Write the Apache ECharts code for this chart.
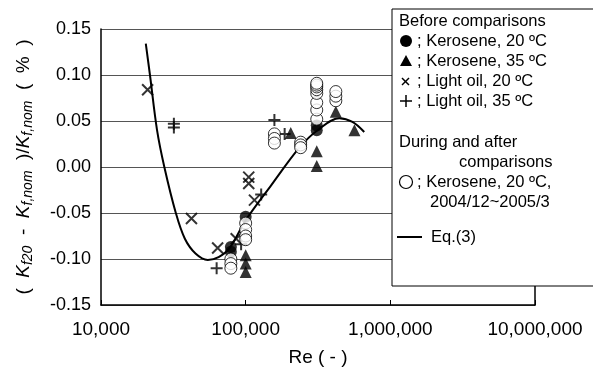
<!DOCTYPE html>
<html><head><meta charset="utf-8">
<script src="https://cdn.jsdelivr.net/npm/echarts@6/dist/echarts.min.js"></script>
<style>html,body{margin:0;padding:0;background:#fff}#c{width:593px;height:379px}</style>
</head><body><div id="c"></div>
<script>
// ---- data ----
const xTicks = [10000, 100000, 1000000, 10000000];
const yTicks = [-0.15, -0.10, -0.05, 0.00, 0.05, 0.10, 0.15];

const kerosene20 = [[79000,-0.087],[79000,-0.092],[100000,-0.054],[310000,0.040],[310000,0.045]];
const kerosene35 = [[100000,-0.096],[100000,-0.105],[100000,-0.114],[205000,0.037],
                    [310000,0.017],[310000,0.001],[420000,0.060],[565000,0.040]];
const lightOil20 = [[21000,0.084],[42200,-0.056],[64000,-0.088],[86000,-0.078],
                    [105000,-0.011],[105000,-0.018],[115000,-0.036]];
const lightOil35 = [[31900,0.047],[31900,0.043],[63000,-0.110],[93000,-0.084],
                    [128000,-0.030],[158000,0.051],[186000,0.036]];
const keroseneAfter = [[79000,-0.100],[79000,-0.105],[79000,-0.110],
                       [100000,-0.061],[100000,-0.068],[100000,-0.075],[100000,-0.079],
                       [158000,0.036],[158000,0.031],[158000,0.026],
                       [240000,0.027],[240000,0.024],[240000,0.021],
                       [310000,0.052],[310000,0.062],[310000,0.070],[310000,0.080],
                       [310000,0.084],[310000,0.087],[310000,0.089],[310000,0.091],
                       [420000,0.072],[420000,0.077],[420000,0.082]];
const eq3 = [[20400,0.134],[21800,0.100],[24400,0.040],[27400,0.000],
             [32900,-0.050],[38000,-0.078],[45000,-0.094],[54700,-0.101],[65000,-0.098],
             [77600,-0.088],[100000,-0.058],[150000,-0.020],[235000,0.021],
             [314000,0.040],[444000,0.053],[547000,0.049],[660000,0.038]];

const legendLines = ['Before comparisons', '; Kerosene, 20 ºC', '; Kerosene, 35 ºC',
  '; Light oil, 20 ºC', '; Light oil, 35 ºC', 'During and after', 'comparisons',
  '; Kerosene, 20 ºC,', '2004/12~2005/3', 'Eq.(3)'];

// ---- chart ----
const FONT = '"Liberation Sans", Arial, sans-serif';
function commas(v){ return String(Math.round(v)).replace(/\B(?=(\d{3})+(?!\d))/g, ','); }
const crossPath = 'path://M0,0L10,10M10,0L0,10';
const plusPath = 'path://M5,0L5,10M0,5L10,5';

const chart = echarts.init(document.getElementById('c'), null, {renderer:'canvas'});
const tf = (x,y,text) => ({type:'text', z:101, style:{x:x, y:y, text:text,
  font:'16.5px ' + FONT, fill:'#000', verticalAlign:'middle'}});

chart.setOption({
  animation:false,
  backgroundColor:'#fff',
  grid:{left:101, right:58, top:29, bottom:74},
  xAxis:{
    type:'log', logBase:10, min:xTicks[0], max:xTicks[xTicks.length-1],
    name:'Re ( - )', nameLocation:'middle', nameGap:43,
    nameTextStyle:{fontFamily:FONT, fontSize:19, color:'#000'},
    axisLine:{onZero:false, lineStyle:{color:'#000', width:1.5}},
    axisTick:{inside:true, length:5, lineStyle:{color:'#000'}},
    minorTick:{show:false},
    splitLine:{show:false},
    axisLabel:{margin:15, fontFamily:FONT, fontSize:19, color:'#000', formatter:v=>commas(v)}
  },
  yAxis:[{
    type:'value', min:yTicks[0], max:yTicks[yTicks.length-1], interval:0.05,
    name:'{n|(  }{k|K}{s|f20}{n|  -  }{k|K}{s|f,nom}{n|  )/}{k|K}{s|f,nom}{n|  (  %  )}',
    nameLocation:'middle', nameGap:66,
    nameTextStyle:{rich:{
      n:{fontFamily:FONT, fontSize:19, color:'#000'},
      k:{fontFamily:FONT, fontSize:19, fontStyle:'italic', color:'#000'},
      s:{fontFamily:FONT, fontSize:14, fontStyle:'italic', color:'#000', padding:[8,0,0,0]}
    }},
    axisLine:{show:true, onZero:false, lineStyle:{color:'#000', width:1.5}},
    axisTick:{show:false},
    splitLine:{show:true, lineStyle:{color:'#555', width:1}},
    axisLabel:{margin:10, fontFamily:FONT, fontSize:18, color:'#000', formatter:v=>v.toFixed(2)}
  },{
    type:'value', min:yTicks[0], max:yTicks[yTicks.length-1], interval:0.05, position:'right',
    axisLine:{show:true, onZero:false, lineStyle:{color:'#000', width:1.5}},
    axisTick:{show:false}, axisLabel:{show:false}, splitLine:{show:false}
  }],
  series:[
    {type:'line', data:eq3, smooth:0.35, showSymbol:false, symbol:'none',
     lineStyle:{color:'#000', width:2}, z:2},
    {type:'scatter', data:kerosene20, symbol:'circle', symbolSize:12, itemStyle:{color:'#000'}, z:3},
    {type:'scatter', data:kerosene35, symbol:'triangle', symbolSize:12, itemStyle:{color:'#000'}, z:3},
    {type:'scatter', data:lightOil20, symbol:crossPath, symbolSize:11,
     itemStyle:{color:'none', borderColor:'#000', borderWidth:2}, z:3},
    {type:'scatter', data:lightOil35, symbol:plusPath, symbolSize:12,
     itemStyle:{color:'none', borderColor:'#000', borderWidth:2}, z:3},
    {type:'scatter', data:keroseneAfter, symbol:'circle', symbolSize:12,
     itemStyle:{color:'#fff', borderColor:'#000', borderWidth:1}, z:4}
  ],
  graphic:[
    {type:'rect', z:100, shape:{x:392, y:9, width:215, height:277},
     style:{fill:'#fff', stroke:'#000', lineWidth:1}},
    tf(399,21,legendLines[0]),
    {type:'circle', z:101, shape:{cx:406, cy:41, r:6}, style:{fill:'#000'}},
    tf(417,41,legendLines[1]),
    {type:'polygon', z:101, shape:{points:[[406,55],[400,66],[412,66]]}, style:{fill:'#000'}},
    tf(417,61,legendLines[2]),
    {type:'polyline', z:101, shape:{points:[[402,78],[409,85]]}, style:{stroke:'#000', lineWidth:1.5}},
    {type:'polyline', z:101, shape:{points:[[409,78],[402,85]]}, style:{stroke:'#000', lineWidth:1.5}},
    tf(417,81,legendLines[3]),
    {type:'polyline', z:101, shape:{points:[[400,101],[412,101]]}, style:{stroke:'#000', lineWidth:1.5}},
    {type:'polyline', z:101, shape:{points:[[406,95],[406,107]]}, style:{stroke:'#000', lineWidth:1.5}},
    tf(417,101,legendLines[4]),
    tf(399,142,legendLines[5]),
    tf(459,162,legendLines[6]),
    {type:'circle', z:101, shape:{cx:406, cy:182, r:6.5}, style:{fill:'#fff', stroke:'#000', lineWidth:1.2}},
    tf(417,182,legendLines[7]),
    tf(430,202,legendLines[8]),
    {type:'polyline', z:101, shape:{points:[[397,237],[422,237]]}, style:{stroke:'#000', lineWidth:2}},
    tf(431,237,legendLines[9])
  ]
});
</script></body></html>
